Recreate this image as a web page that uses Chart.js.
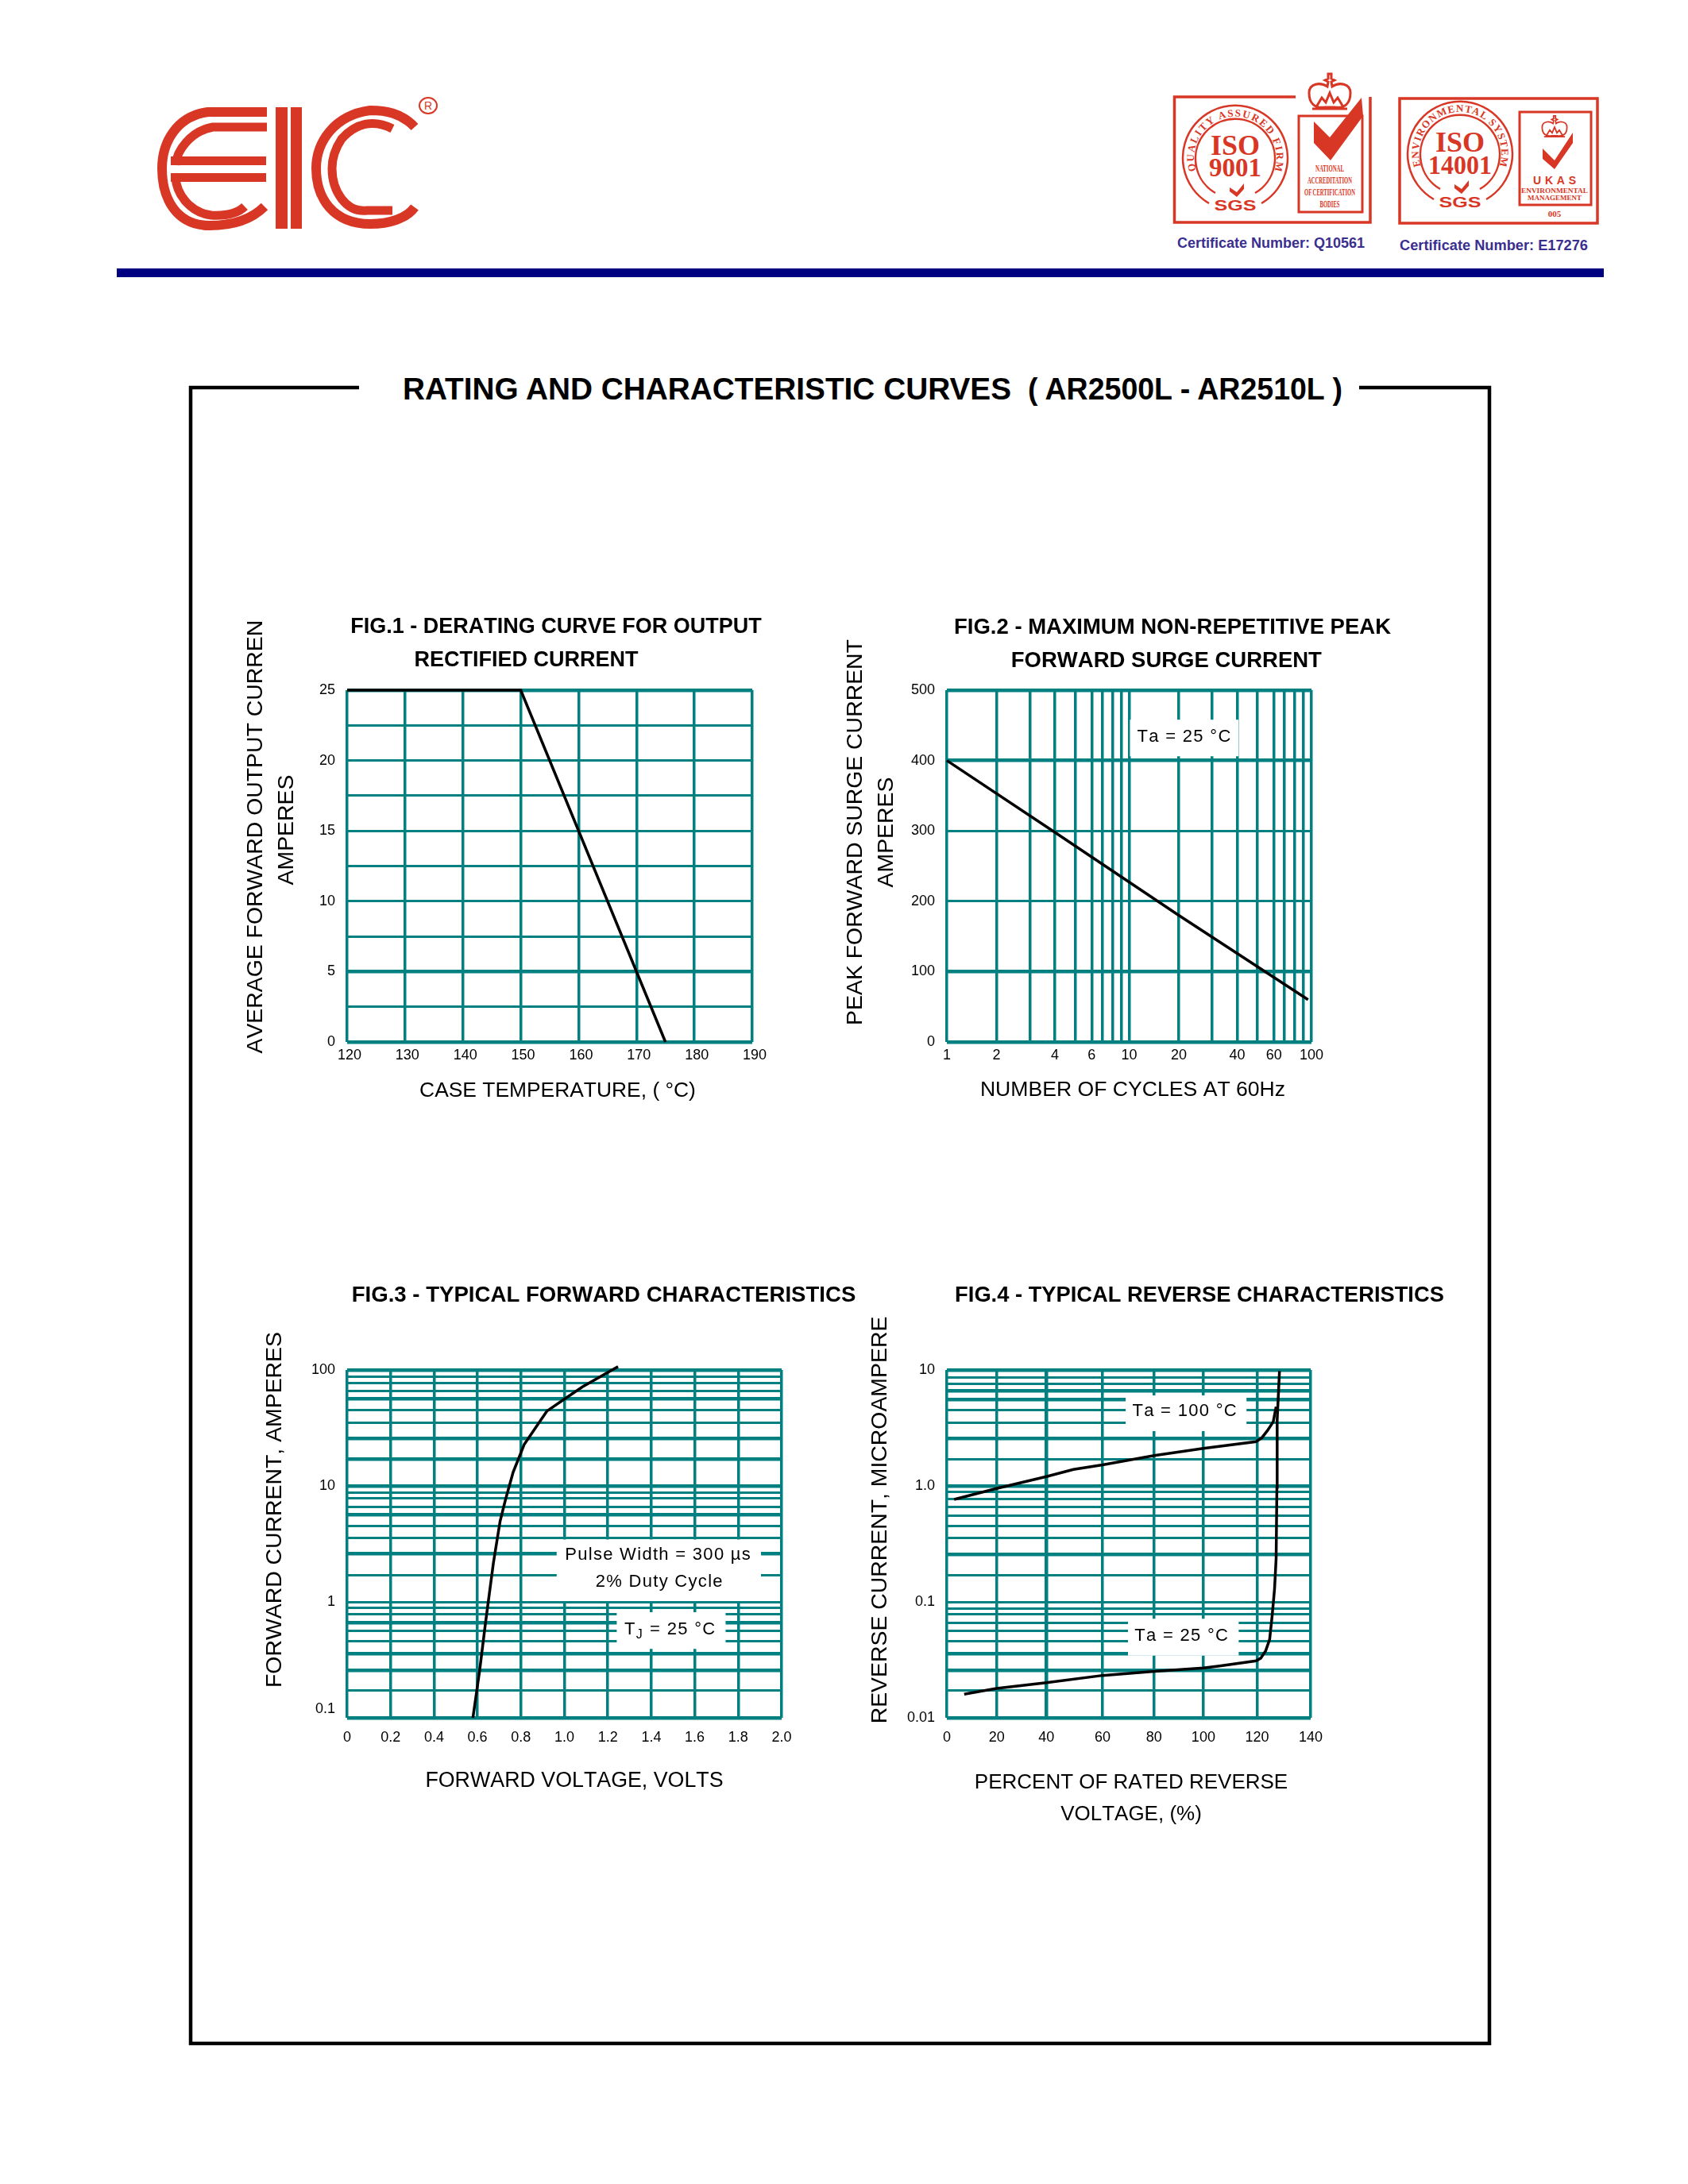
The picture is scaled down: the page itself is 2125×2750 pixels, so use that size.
<!DOCTYPE html>
<html>
<head>
<meta charset="utf-8">
<title>AR2500L - AR2510L rating and characteristic curves</title>
<script src="https://cdn.jsdelivr.net/npm/chart.js@4/dist/chart.umd.min.js"></script>
<style>
    html, body { margin: 0; padding: 0; background: #fff; }
    #page { position: relative; width: 2125px; height: 2750px; overflow: hidden; }
    #sheet { position: absolute; left: 0; top: 0; }
    canvas { position: absolute; }
    /* the first y title runs off its box in the original, cut through the N */
    #cut { position: absolute; left: 300px; top: 740px; width: 40px; height: 42px; background: #fff; }
</style>
</head>
<body>
<div id="page">
<svg id="sheet" width="2125" height="2750" viewBox="0 0 2125 2750" font-family="Liberation Sans">
    <defs>
        <path id="crown" fill="none" stroke="#d93725" stroke-width="3" d="M-6 20 C-20 22 -26 14 -26 2 C-26 -10 -12 -12 -3 -6 L-2 -12 L-6 -14 L-2 -16 L-2 -22 L2 -22 L2 -16 L6 -14 L2 -12 L3 -6 C12 -12 26 -10 26 2 C26 14 20 22 6 20 Z M-16 18 L-10 8 L-5 14 L0 2 L5 14 L10 8 L16 18 M-22 22 H22"/>
        <path id="arc1" d="M1508 221 A52 52 0 1 1 1602 221"/>
        <path id="arc2" d="M1791 215 A52 52 0 1 1 1885 215"/>
    </defs>
    <!-- logo -->
    <g fill="none" stroke="#d93725" stroke-width="12">
        <path d="M336 141 H262 C222 146 204 180 204 212 C204 250 222 284 264 284 C296 284 318 275 333 260"/>
        <path stroke-width="11" d="M336 160 H268 C240 165 222 190 221 208 M221 223 C222 245 240 268 266 271 C285 272 300 268 308 260"/>
        <path d="M522 160 C505 142 485 139 466 139 C420 145 398 180 398 212 C398 250 420 282 466 282 C490 282 512 275 522 261"/>
        <path stroke-width="11" d="M494 162 C470 150 448 155 430 175 C420 190 418 205 418 212 C418 240 435 268 462 265 H494"/>
    </g>
    <g fill="#d93725">
        <rect x="215" y="197" width="120" height="11"/>
        <rect x="215" y="218" width="120" height="11"/>
        <rect x="347" y="135" width="15" height="153"/>
        <rect x="366" y="135" width="14" height="153"/>
    </g>
    <ellipse cx="539" cy="133" rx="11" ry="10" fill="none" stroke="#d93725" stroke-width="2"/>
    <text x="539" y="138" text-anchor="middle" font-size="14" fill="#d93725">R</text>

    <!-- ISO 9001 badge -->
    <g fill="none" stroke="#d93725">
        <path stroke-width="3.5" d="M1631 122 H1478.5 V280 H1725 V122"/>
        <rect x="1635" y="146" width="80" height="121" stroke-width="3"/>
        <path stroke-width="2.5" d="M1522 256 A66 66 0 1 1 1588 256 M1530 243 A50 50 0 1 1 1580 243"/>
        <use href="#crown" x="1674" y="115"/>
    </g>
    <g fill="#d93725" text-anchor="middle">
        <path d="M1654 153 L1674 173 L1714 123 L1716 146 L1675 202 L1654 180 Z"/>
        <path d="M1548 236 L1557 242 L1566 231 L1566 238 L1557 248 L1548 241 Z"/>
        <text font-family="Liberation Serif" font-weight="bold" font-size="13"><textPath href="#arc1" startOffset="50%" textLength="196">QUALITY ASSURED FIRM</textPath></text>
        <text x="1555" y="195" font-family="Liberation Serif" font-weight="bold" font-size="36">ISO</text>
        <text x="1555" y="222" font-family="Liberation Serif" font-weight="bold" font-size="34" textLength="66" lengthAdjust="spacingAndGlyphs">9001</text>
        <text x="1555" y="265" font-weight="bold" font-size="19" textLength="53" lengthAdjust="spacingAndGlyphs">SGS</text>
        <g font-family="Liberation Serif" font-weight="bold" font-size="12">
            <text x="1674" y="216" textLength="36" lengthAdjust="spacingAndGlyphs">NATIONAL</text>
            <text x="1674" y="231" textLength="56" lengthAdjust="spacingAndGlyphs">ACCREDITATION</text>
            <text x="1674" y="246" textLength="64" lengthAdjust="spacingAndGlyphs">OF CERTIFICATION</text>
            <text x="1674" y="261" textLength="25" lengthAdjust="spacingAndGlyphs">BODIES</text>
        </g>
    </g>
    <text x="1482" y="312" font-size="18" font-weight="bold" fill="#3a2f8f" textLength="236" lengthAdjust="spacingAndGlyphs">Certificate Number: Q10561</text>

    <!-- ISO 14001 badge -->
    <g fill="none" stroke="#d93725">
        <rect x="1762" y="124" width="249" height="157" stroke-width="3.5"/>
        <rect x="1913" y="141" width="90" height="117" stroke-width="3"/>
        <path stroke-width="2.5" d="M1805 251 A66 66 0 1 1 1871 251 M1813 238 A50 50 0 1 1 1863 238"/>
        <use href="#crown" transform="translate(1957 159) scale(.6)"/>
    </g>
    <g fill="#d93725" text-anchor="middle">
        <path d="M1942 187 L1957 202 L1980 167 L1980 180 L1957 213 L1942 200 Z"/>
        <path d="M1831 232 L1840 238 L1849 227 L1849 234 L1840 244 L1831 237 Z"/>
        <text font-family="Liberation Serif" font-weight="bold" font-size="13"><textPath href="#arc2" startOffset="50%" textLength="196">ENVIRONMENTAL SYSTEM</textPath></text>
        <text x="1838" y="191" font-family="Liberation Serif" font-weight="bold" font-size="36">ISO</text>
        <text x="1838" y="219" font-family="Liberation Serif" font-weight="bold" font-size="34" textLength="80" lengthAdjust="spacingAndGlyphs">14001</text>
        <text x="1838" y="261" font-weight="bold" font-size="19" textLength="53" lengthAdjust="spacingAndGlyphs">SGS</text>
        <text x="1957" y="232" font-size="14" font-weight="bold" textLength="54">UKAS</text>
        <g font-family="Liberation Serif" font-weight="bold" font-size="9">
            <text x="1957" y="243" textLength="84" lengthAdjust="spacingAndGlyphs">ENVIRONMENTAL</text>
            <text x="1957" y="252" textLength="68" lengthAdjust="spacingAndGlyphs">MANAGEMENT</text>
            <text x="1957" y="273" font-size="11">005</text>
        </g>
    </g>
    <text x="1762" y="315" font-size="18" font-weight="bold" fill="#3a2f8f" textLength="237" lengthAdjust="spacingAndGlyphs">Certificate Number: E17276</text>

    <rect x="147" y="338" width="1872" height="11" fill="#000080"/>

    <!-- frame and sheet title -->
    <path fill="none" stroke="#000" stroke-width="4.5" d="M452 488 H240 V2573 H1875 V488 H1711"/>
    <text x="507" y="503" font-size="39" font-weight="bold" textLength="766" lengthAdjust="spacingAndGlyphs">RATING AND CHARACTERISTIC CURVES</text>
    <text x="1294" y="503" font-size="39" font-weight="bold" textLength="396" lengthAdjust="spacingAndGlyphs">( AR2500L - AR2510L )</text>
</svg>
<canvas id="fig1"></canvas>
<canvas id="fig2"></canvas>
<canvas id="fig3"></canvas>
<canvas id="fig4"></canvas>
<div id="cut"></div>
</div>

<script>
// FIG.1 derating curve
const fig1Temp = [120, 150, 175];
const fig1Current = [25, 25, 0];
const fig1GridX = [120, 130, 140, 150, 160, 170, 180, 190];
const fig1GridY = [0, 2.5, 5, 7.5, 10, 12.5, 15, 17.5, 20, 22.5, 25];
const fig1LabelsY = [0, 5, 10, 15, 20, 25];
const fig1ThickY = [0, 5, 25];

// FIG.2 surge current - the vertical rulings are read off the sheet, they are not a true log ruling
const fig2Cycles = [1, 3.91, 18.7, 95.8];
const fig2Surge = [400, 298, 180, 60];
const fig2GridX = [1, 1.87, 2.86, 3.91, 5.05, 6.23, 7.14, 8.08, 9.05, 10, 18.7, 28.5, 39.1, 50.5, 62.3, 71.1, 81.2, 90.1, 100];
const fig2LabelValuesX = [1, 1.87, 3.91, 6.23, 10, 18.7, 39.1, 62.3, 100];
const fig2LabelsX = ['1', '2', '4', '6', '10', '20', '40', '60', '100'];
const fig2GridY = [0, 100, 200, 300, 400, 500];
const fig2ThickY = [0, 100, 400, 500];

// FIG.3 forward characteristics
const fig3Volts = [0.579, 0.61, 0.637, 0.673, 0.704, 0.728, 0.764, 0.815, 0.919, 1.001, 1.083, 1.247];
const fig3Amps = [0.1, 0.257, 0.661, 2.15, 4.95, 7.5, 13.1, 22.8, 44.1, 56.2, 71.6, 107];
const fig3GridX = [0, 0.2, 0.4, 0.6, 0.8, 1, 1.2, 1.4, 1.6, 1.8, 2];
const fig3LabelsX = ['0', '0.2', '0.4', '0.6', '0.8', '1.0', '1.2', '1.4', '1.6', '1.8', '2.0'];
const fig3GridY = [0.1, 0.171, 0.257, 0.359, 0.457, 0.563, 0.661, 0.786, 0.885, 1,
    1.69, 2.59, 3.55, 4.52, 5.61, 6.62, 7.83, 8.8, 10,
    16.9, 25.5, 35.1, 45.3, 56.2, 65.5, 76.8, 87, 100];
const fig3ThickY = [0.1, 0.257, 0.359, 0.661, 2.59, 5.61, 10, 16.9, 25.5, 56.2, 100];

// FIG.4 reverse characteristics
const fig4Pct100 = [2.8, 19.1, 38.3, 48.7, 59.9, 79.8, 98.7, 119, 121.2, 123.4, 125.6, 126.7];
const fig4Cur100 = [0.765, 0.949, 1.205, 1.388, 1.518, 1.829, 2.107, 2.41, 2.6, 3.01, 3.58, 4.82];
const fig4Pct25 = [6.66, 19.1, 38.3, 59.9, 79.8, 98.7, 104.9, 119, 120.8, 122.7, 124.2, 125.2, 126.1, 126.7, 127, 127.1, 128];
const fig4Cur25 = [0.016, 0.0179, 0.0201, 0.0232, 0.0252, 0.0269, 0.028, 0.031, 0.0327, 0.038, 0.0474, 0.077, 0.13, 0.2355, 0.97, 3.7, 9.78];
const fig4GridX = [0, 19.2, 38.3, 59.9, 79.7, 98.7, 119.4, 140];
const fig4LabelsX = ['0', '20', '40', '60', '80', '100', '120', '140'];
const fig4GridY = [0.01, 0.0171, 0.0256, 0.0357, 0.0457, 0.056, 0.0654, 0.0782, 0.0881, 0.1,
    0.17, 0.258, 0.355, 0.451, 0.555, 0.654, 0.776, 0.887, 1,
    1.7, 2.56, 3.5, 4.54, 5.59, 6.59, 7.53, 8.55, 10];
const fig4ThickY = [0.01, 0.0256, 0.0357, 0.258, 1, 2.56, 5.59, 6.59, 10];

const TEAL = '#008080';
const FONT = "'Liberation Sans', Arial, sans-serif";

function gridOptions(thick, thin, wide) {
    return {
        color: TEAL,
        drawTicks: false,
        lineWidth: ctx => (ctx.tick && thick.includes(ctx.tick.value)) ? wide : thin
    };
}

// white patches and the small notes that sit on them, placed in data values
function notesPlugin(boxes, notes) {
    return {
        id: 'notes',
        beforeDatasetsDraw(chart) {
            const { ctx, scales: { x, y } } = chart;
            ctx.save();
            ctx.fillStyle = '#fff';
            boxes.forEach(b => {
                const x0 = x.getPixelForValue(b[0]), x1 = x.getPixelForValue(b[1]);
                const y0 = y.getPixelForValue(b[2]), y1 = y.getPixelForValue(b[3]);
                ctx.fillRect(x0, y1, x1 - x0, y0 - y1);
            });
            ctx.fillStyle = '#000';
            ctx.textBaseline = 'middle';
            ctx.letterSpacing = '1.3px';
            notes.forEach(n => {
                ctx.font = '22px ' + FONT;
                const px = x.getPixelForValue(n.x), py = y.getPixelForValue(n.y) + 1;
                if (n.sub) {
                    // T with a subscript J
                    const tail = ctx.measureText(n.text).width;
                    const head = ctx.measureText('T').width;
                    const left = px - (head + 10 + tail) / 2;
                    ctx.textAlign = 'left';
                    ctx.fillText('T', left, py);
                    ctx.fillText(n.text, left + head + 10, py);
                    ctx.font = '16px ' + FONT;
                    ctx.fillText(n.sub, left + head, py + 7);
                } else {
                    ctx.textAlign = 'center';
                    ctx.fillText(n.text, px, py);
                }
            });
            ctx.restore();
        }
    };
}

// titles in the original sit off the middle of the plot, and the long ones are wider than it
function titleBandPlugin(box) {
    return {
        id: 'titleBand',
        afterLayout(chart) {
            const { x, y } = chart.scales;
            y.top = box.titleY - box.top - 400;
            y.bottom = box.titleY - box.top + 400;
            x.left = box.titleX - box.left - 400;
            x.right = box.titleX - box.left + 400;
            chart.titleBlock.left = box.headX - box.left - 400;
            chart.titleBlock.right = box.headX - box.left + 400;
        },
        beforeDraw(chart) {
            // the sheet's type is not kerned
            chart.ctx.fontKerning = 'none';
        }
    };
}

function makeChart(id, f) {
    const canvas = document.getElementById(id);
    canvas.width = f.box.width;
    canvas.height = f.box.height;
    canvas.style.left = f.box.left + 'px';
    canvas.style.top = f.box.top + 'px';

    const labelX = new Map(f.labelValuesX.map((v, i) => [v, f.labelsX[i]]));
    const labelY = new Map(f.labelValuesY.map((v, i) => [v, f.labelsY[i]]));

    return new Chart(canvas, {
        type: 'line',
        data: {
            datasets: f.series.map(s => ({
                data: s.xs.map((v, i) => ({ x: v, y: s.ys[i] })),
                borderColor: '#000',
                borderWidth: 3.5,
                pointRadius: 0,
                tension: 0,
                clip: false
            }))
        },
        options: {
            responsive: false,
            animation: false,
            events: [],
            layout: { padding: { left: 0, top: 0, bottom: 0, right: f.box.paddingRight } },
            plugins: {
                legend: { display: false },
                tooltip: { enabled: false },
                title: {
                    display: true,
                    text: f.title,
                    color: '#000',
                    font: { family: FONT, size: f.headSize, weight: 'bold', lineHeight: '42px' },
                    padding: f.titlePadding
                }
            },
            scales: {
                x: {
                    type: f.typeX,
                    min: f.gridX[0],
                    max: f.gridX[f.gridX.length - 1],
                    grid: gridOptions(f.thickX || [], 3.5, 4.5),
                    border: { display: false },
                    afterBuildTicks: s => { s.ticks = f.gridX.map(v => ({ value: v })); },
                    afterFit: s => { s.height = f.box.axisHeight; },
                    ticks: {
                        autoSkip: false,
                        maxRotation: 0,
                        minRotation: 0,
                        color: '#000',
                        padding: f.tickPadX,
                        labelOffset: f.labelOffsetX || 0,
                        font: { family: FONT, size: 18 },
                        callback: v => labelX.has(v) ? labelX.get(v) : ''
                    },
                    title: {
                        display: true,
                        text: f.titleX,
                        color: '#000',
                        padding: 0,
                        font: { family: FONT, size: f.sizeX, lineHeight: f.lineHeightX || '30px' }
                    }
                },
                y: {
                    type: f.typeY,
                    min: f.gridY[0],
                    max: f.gridY[f.gridY.length - 1],
                    grid: gridOptions(f.thickY, 3, 4.5),
                    border: { display: false },
                    afterBuildTicks: s => { s.ticks = f.gridY.map(v => ({ value: v })); },
                    afterFit: s => { s.width = f.box.axisWidth; },
                    ticks: {
                        autoSkip: false,
                        color: '#000',
                        padding: 15,
                        font: { family: FONT, size: 18 },
                        callback: v => labelY.has(v) ? labelY.get(v) : ''
                    },
                    title: {
                        display: true,
                        text: f.titleY,
                        color: '#000',
                        padding: { top: 3, bottom: 0 },
                        font: { family: FONT, size: 28.4, lineHeight: '39px' }
                    }
                }
            }
        },
        plugins: [notesPlugin(f.boxes || [], f.notes || []), titleBandPlugin(f.box)]
    });
}

document.addEventListener('DOMContentLoaded', () => {
    makeChart('fig1', {
        box: { left: 300, top: 766, width: 800, height: 623, paddingRight: 153, axisWidth: 137, axisHeight: 77, titleX: 702, titleY: 1045, headX: 700 },
        title: ['FIG.1 - DERATING CURVE FOR OUTPUT', 'RECTIFIED CURRENT' + '\u00a0'.repeat(10)],
        headSize: 27,
        titlePadding: { top: 3, bottom: 16 },
        titleX: 'CASE TEMPERATURE, ( °C)',
        sizeX: 26.4,
        titleY: ['AVERAGE FORWARD OUTPUT CURRENT', 'AMPERES'],
        typeX: 'linear',
        typeY: 'linear',
        gridX: fig1GridX,
        gridY: fig1GridY,
        thickY: fig1ThickY,
        labelValuesX: fig1GridX,
        labelsX: fig1GridX.map(String),
        labelValuesY: fig1LabelsY,
        labelsY: fig1LabelsY.map(String),
        tickPadX: 6,
        labelOffsetX: 3,
        series: [{ xs: fig1Temp, ys: fig1Current }]
    });

    makeChart('fig2', {
        box: { left: 1055, top: 766, width: 840, height: 622, paddingRight: 244, axisWidth: 137, axisHeight: 76, titleX: 1426, titleY: 1048, headX: 1476 },
        title: ['FIG.2 - MAXIMUM NON-REPETITIVE PEAK', 'FORWARD SURGE CURRENT' + '\u00a0'.repeat(2)],
        headSize: 27.5,
        titlePadding: { top: 3, bottom: 16 },
        titleX: 'NUMBER OF CYCLES AT 60Hz',
        sizeX: 26.6,
        titleY: ['PEAK FORWARD SURGE CURRENT', 'AMPERES'],
        typeX: 'logarithmic',
        typeY: 'linear',
        gridX: fig2GridX,
        gridY: fig2GridY,
        thickY: fig2ThickY,
        labelValuesX: fig2LabelValuesX,
        labelsX: fig2LabelsX,
        labelValuesY: fig2GridY,
        labelsY: fig2GridY.map(String),
        tickPadX: 6,
        series: [{ xs: fig2Cycles, ys: fig2Surge }],
        boxes: [[10.1, 39.8, 406, 458]],
        notes: [{ text: 'Ta = 25 °C', x: 20.1, y: 435 }]
    });

    makeChart('fig3', {
        box: { left: 324, top: 1608, width: 872, height: 650, paddingRight: 212, axisWidth: 113, axisHeight: 95, titleX: 723, titleY: 1901, headX: 760 },
        title: 'FIG.3 - TYPICAL FORWARD CHARACTERISTICS',
        headSize: 27.6,
        titlePadding: { top: 2, bottom: 73 },
        titleX: 'FORWARD VOLTAGE, VOLTS',
        sizeX: 26.8,
        titleY: 'FORWARD CURRENT, AMPERES',
        typeX: 'linear',
        typeY: 'logarithmic',
        gridX: fig3GridX,
        gridY: fig3GridY,
        thickY: fig3ThickY,
        labelValuesX: fig3GridX,
        labelsX: fig3LabelsX,
        labelValuesY: [0.1, 1, 10, 100],
        labelsY: [['0.1', ''], '1', '10', '100'],
        tickPadX: 14,
        series: [{ xs: fig3Volts, ys: fig3Amps }],
        boxes: [[0.9645, 1.905, 1.016, 3.45], [1.241, 1.742, 0.393, 0.814]],
        notes: [
            { text: 'Pulse Width = 300 µs', x: 1.432, y: 2.56 },
            { text: '2% Duty Cycle', x: 1.438, y: 1.52 },
            { text: ' = 25 °C', sub: 'J', x: 1.487, y: 0.587 }
        ]
    });

    makeChart('fig4', {
        box: { left: 1086, top: 1608, width: 844, height: 697, paddingRight: 280, axisWidth: 106, axisHeight: 142, titleX: 1424, titleY: 1914, headX: 1510 },
        title: 'FIG.4 - TYPICAL REVERSE CHARACTERISTICS',
        headSize: 27.3,
        titlePadding: { top: 2, bottom: 73 },
        titleX: ['PERCENT OF RATED REVERSE', 'VOLTAGE, (%)'],
        sizeX: 26,
        lineHeightX: '40px',
        titleY: 'REVERSE CURRENT, MICROAMPERE',
        typeX: 'linear',
        typeY: 'logarithmic',
        gridX: fig4GridX,
        thickX: [38.3],
        gridY: fig4GridY,
        thickY: fig4ThickY,
        labelValuesX: fig4GridX,
        labelsX: fig4LabelsX,
        labelValuesY: [0.01, 0.1, 1, 10],
        labelsY: ['0.01', '0.1', '1.0', '10'],
        tickPadX: 14,
        series: [{ xs: fig4Pct100, ys: fig4Cur100 }, { xs: fig4Pct25, ys: fig4Cur25 }],
        boxes: [[68.8, 115.3, 2.97, 6.03], [69.7, 112.3, 0.0344, 0.0715]],
        notes: [
            { text: 'Ta = 100 °C', x: 91.6, y: 4.47 },
            { text: 'Ta = 25 °C', x: 90.4, y: 0.0519 }
        ]
    });
});
</script>
</body>
</html>
